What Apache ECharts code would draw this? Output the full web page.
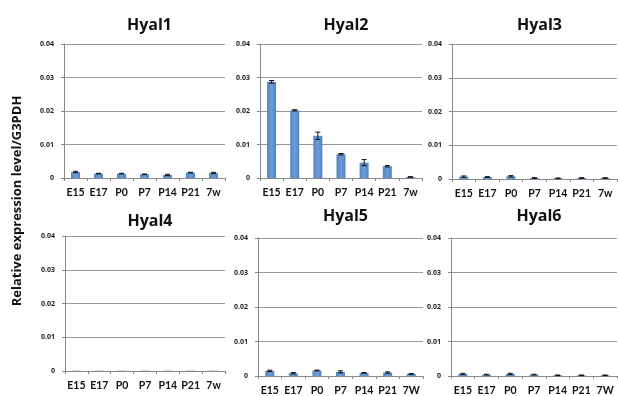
<!DOCTYPE html>
<html>
<head>
<meta charset="utf-8">
<script src="https://cdn.jsdelivr.net/npm/echarts@6/dist/echarts.min.js"></script>
<style>
  html, body { margin: 0; padding: 0; background: #fff; }
  #chart { width: 618px; height: 396px; }
</style>
</head>
<body>
<div id="chart"></div>
<script>
// Developmental stages on each x axis
const stagesLower = ['E15', 'E17', 'P0', 'P7', 'P14', 'P21', '7w'];
const stagesUpper = ['E15', 'E17', 'P0', 'P7', 'P14', 'P21', '7W'];

const geneNames = ['Hyal1', 'Hyal2', 'Hyal3', 'Hyal4', 'Hyal5', 'Hyal6'];

// Mean relative expression (normalised to G3PDH)
const hyal1 = [0.0018, 0.0013, 0.0013, 0.0011, 0.0009, 0.0016, 0.0015];
const hyal2 = [0.0287, 0.0202, 0.0126, 0.0071, 0.0046, 0.0035, 0.0003];
const hyal3 = [0.0007, 0.0006, 0.0008, 0.0003, 0.0002, 0.0003, 0.0003];
const hyal4 = [0.0001, 0.0001, 0.0001, 0.0001, 0.0001, 0.0001, 0.0001];
const hyal5 = [0.0015, 0.0008, 0.0016, 0.0012, 0.0009, 0.0010, 0.0006];
const hyal6 = [0.0006, 0.0004, 0.0006, 0.0004, 0.0002, 0.0002, 0.0002];

// Standard error for each point
const hyal1Err = [0.0002, 0.0001, 0.0001, 0.0001, 0.0002, 0.0001, 0.0002];
const hyal2Err = [0.0004, 0.0002, 0.0011, 0.0002, 0.0009, 0.0002, 0.0001];
const hyal3Err = [0.0002, 0.0001, 0.0002, 0.0001, 0.0001, 0.0001, 0.0001];
const hyal4Err = [0.0000, 0.0000, 0.0000, 0.0000, 0.0000, 0.0000, 0.0000];
const hyal5Err = [0.0002, 0.0002, 0.0001, 0.0003, 0.0001, 0.0002, 0.0001];
const hyal6Err = [0.0002, 0.0001, 0.0002, 0.0001, 0.0001, 0.0001, 0.0001];

const yTicks = [0, 0.01, 0.02, 0.03, 0.04];

const means = [hyal1, hyal2, hyal3, hyal4, hyal5, hyal6];
const errs = [hyal1Err, hyal2Err, hyal3Err, hyal4Err, hyal5Err, hyal6Err];
const stageSets = [stagesLower, stagesLower, stagesLower, stagesLower, stagesUpper, stagesUpper];

// Panel frames (plot areas) and title offsets above each frame
const panels = [
  { left: 64,  top: 44,  width: 161, height: 134, titleGap: 32 },
  { left: 260, top: 44,  width: 162, height: 134, titleGap: 32 },
  { left: 452, top: 44,  width: 165, height: 135, titleGap: 32 },
  { left: 65,  top: 236, width: 160, height: 135, titleGap: 28 },
  { left: 258, top: 238, width: 165, height: 138, titleGap: 35 },
  { left: 451, top: 238, width: 166, height: 138, titleGap: 35 }
];

const barColor = new echarts.graphic.LinearGradient(0, 0, 1, 0, [
  { offset: 0, color: '#4f84c4' },
  { offset: 0.5, color: '#6e9dd5' },
  { offset: 1, color: '#4f84c4' }
]);

const grid = [], xAxis = [], yAxis = [], series = [], title = [];

panels.forEach((p, i) => {
  grid.push({ left: p.left, top: p.top, width: p.width, height: p.height, containLabel: false });
  title.push({
    text: geneNames[i],
    left: p.left + p.width / 2,
    top: p.top - p.titleGap,
    textAlign: 'center',
    textStyle: { fontFamily: 'Open Sans', fontWeight: 'bold', fontSize: 16, color: '#111' }
  });
  xAxis.push({
    type: 'category',
    gridIndex: i,
    data: stageSets[i],
    axisLine: { lineStyle: { color: '#888', width: 1 } },
    axisTick: { show: true, length: 3, lineStyle: { color: '#888' } },
    axisLabel: {
      interval: 0,
      hideOverlap: false,
      color: '#111',
      fontFamily: 'Lato',
      fontWeight: 'bold',
      fontSize: 10.5,
      margin: 9
    }
  });
  yAxis.push({
    type: 'value',
    gridIndex: i,
    min: yTicks[0],
    max: yTicks[yTicks.length - 1],
    interval: 0.01,
    axisLine: { show: true, lineStyle: { color: '#888', width: 1 } },
    axisTick: { show: true, length: 3, lineStyle: { color: '#888' } },
    splitLine: { lineStyle: { color: '#999', width: 1 } },
    axisLabel: { color: '#222', fontFamily: 'Open Sans', fontWeight: 'bold', fontSize: 7, margin: 10 }
  });
  series.push({
    type: 'bar',
    xAxisIndex: i,
    yAxisIndex: i,
    barWidth: 9,
    data: means[i],
    itemStyle: { color: barColor },
    silent: true
  });
  series.push({
    type: 'custom',
    xAxisIndex: i,
    yAxisIndex: i,
    silent: true,
    z: 5,
    data: means[i].map((m, k) => [k, m - errs[i][k], m + errs[i][k], errs[i][k]]),
    renderItem: function (params, api) {
      // No whisker when the error is zero
      if (!(api.value(3) > 0)) return null;
      const lo = api.coord([api.value(0), api.value(1)]);
      const hi = api.coord([api.value(0), api.value(2)]);
      const half = 2.5;
      const style = { stroke: '#111', lineWidth: 1 };
      return {
        type: 'group',
        children: [
          { type: 'line', shape: { x1: hi[0], y1: hi[1], x2: lo[0], y2: lo[1] }, style: style },
          { type: 'line', shape: { x1: hi[0] - half, y1: hi[1], x2: hi[0] + half, y2: hi[1] }, style: style },
          { type: 'line', shape: { x1: lo[0] - half, y1: lo[1], x2: lo[0] + half, y2: lo[1] }, style: style }
        ]
      };
    }
  });
});

const chart = echarts.init(document.getElementById('chart'), null, { renderer: 'canvas' });
chart.setOption({
  animation: false,
  backgroundColor: '#fff',
  title: title,
  grid: grid,
  xAxis: xAxis,
  yAxis: yAxis,
  series: series,
  graphic: [{
    type: 'text',
    x: 17,
    y: 201,
    rotation: Math.PI / 2,
    style: {
      text: 'Relative expression level/G3PDH',
      font: 'bold 13px "Open Sans"',
      fill: '#111',
      align: 'center',
      verticalAlign: 'middle'
    }
  }]
});
</script>
</body>
</html>
